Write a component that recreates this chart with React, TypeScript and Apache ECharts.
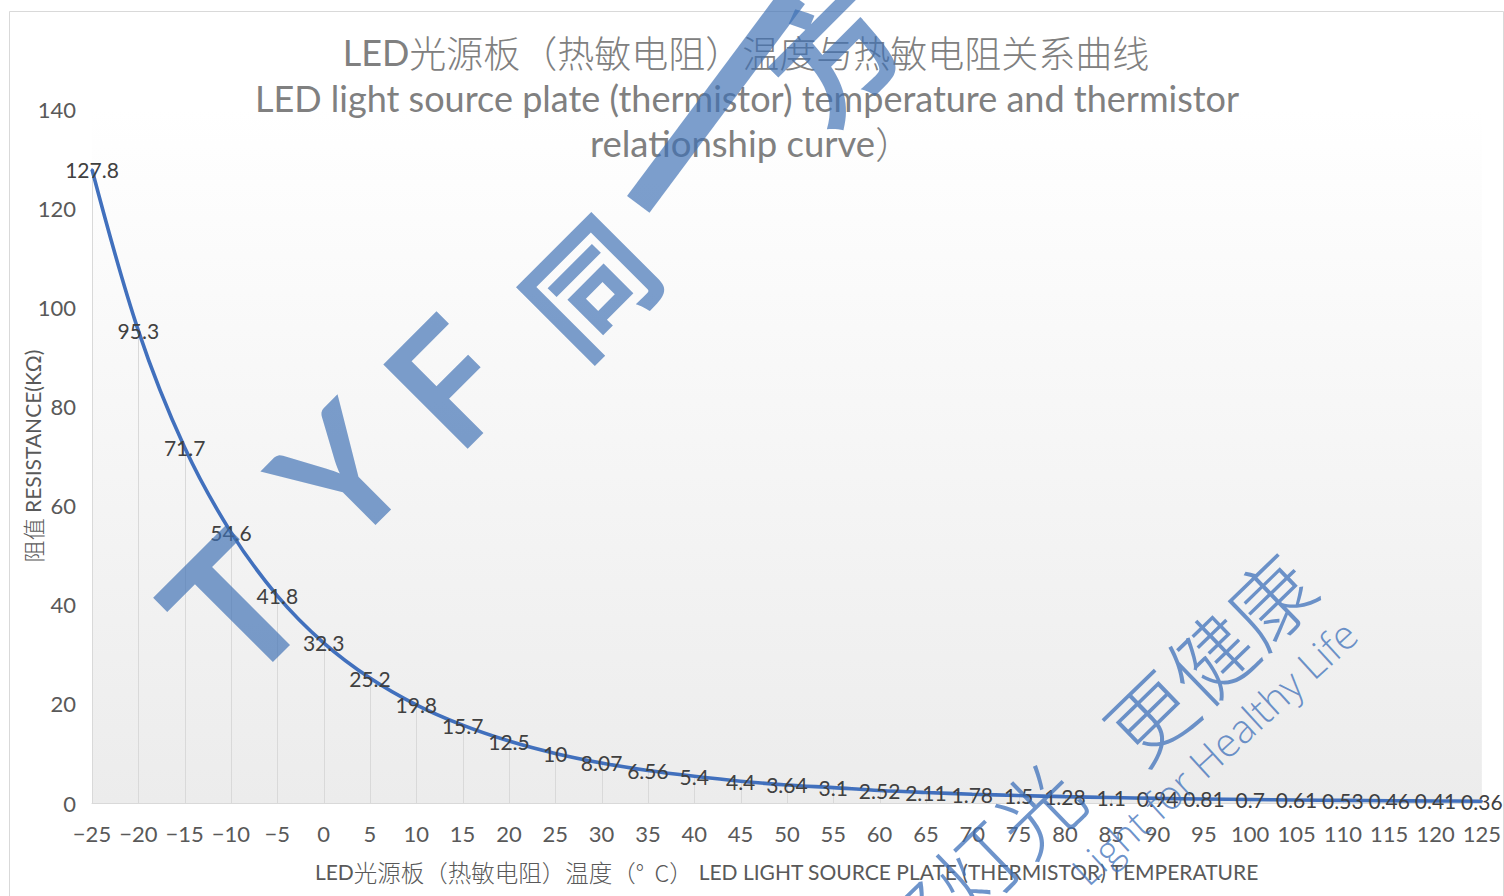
import React, { useEffect, useRef } from "react";
import * as echarts from "echarts";

const temperatures = [-25, -20, -15, -10, -5, 0, 5, 10, 15, 20, 25, 30, 35, 40, 45, 50, 55, 60, 65, 70, 75, 80, 85, 90, 95, 100, 105, 110, 115, 120, 125];
const resistance = [127.8, 95.3, 71.7, 54.6, 41.8, 32.3, 25.2, 19.8, 15.7, 12.5, 10, 8.07, 6.56, 5.4, 4.4, 3.64, 3.1, 2.52, 2.11, 1.78, 1.5, 1.28, 1.1, 0.94, 0.81, 0.7, 0.61, 0.53, 0.46, 0.41, 0.36];
const yTicks = [0, 20, 40, 60, 80, 100, 120, 140];

const titleLine1Latin = "LED";
const titleLine1Cjk = "光源板（热敏电阻）温度与热敏电阻关系曲线";
const titleLine2 = "LED light source plate (thermistor) temperature and thermistor";
const titleLine3Latin = "relationship curve";
const titleLine3Cjk = "）";
const xNameCjk = "光源板（热敏电阻）温度（°  C）";
const xNameLatin = "LED LIGHT SOURCE PLATE (THERMISTOR) TEMPERATURE";
const yNameCjk = "阻值";
const yNameLatin = " RESISTANCE(KΩ)";

const LATIN = "Lato, 'Noto Sans', sans-serif";
const CJK = "'Noto Sans CJK SC', sans-serif";

export default function App() {
  const ref = useRef<HTMLDivElement>(null);
  useEffect(() => {
    document.body.style.margin = "0";
    const chart = echarts.init(ref.current!, null, { renderer: "svg" });
    const pts = temperatures.map((t, i) => [t, resistance[i]]);
    const wmColor = "rgba(62,112,180,0.68)";
    const wmThin = "rgba(62,112,185,0.75)";
    const rot = Math.PI / 4;
    const logoText = (t: string, x: number, y: number, size: number, fam: string) => ({
      type: "text",
      x,
      y,
      rotation: rot,
      z: 100,
      silent: true,
      style: { text: t, x: 0, y: 0, align: "center", verticalAlign: "middle", fill: wmColor, font: `bold ${size}px ${fam}` },
    });
    chart.setOption({
      animation: false,
      backgroundColor: "#ffffff",
      grid: {
        left: 92,
        right: 19,
        top: 109,
        bottom: 93,
        show: true,
        borderWidth: 0,
        backgroundColor: new echarts.graphic.LinearGradient(0, 0, 0, 1, [
          { offset: 0, color: "#ffffff" },
          { offset: 1, color: "#ececec" },
        ]),
      },
      xAxis: {
        type: "value",
        min: temperatures[0],
        max: temperatures[temperatures.length - 1],
        interval: 5,
        axisLine: { show: true, lineStyle: { color: "#d9d9d9", width: 1 } },
        axisTick: { show: false },
        splitLine: { show: false },
        axisLabel: {
          color: "#595959",
          fontFamily: LATIN,
          fontSize: 22,
          margin: 19,
          formatter: (v: number) => String(v).replace("-", "\u2212"),
        },
        name: `{c|${titleLine1Latin}}{z|${xNameCjk}}{c| ${xNameLatin}}`,
        nameLocation: "middle",
        nameGap: 57,
        nameMoveOverlap: false,
        nameTextStyle: {
          rich: {
            c: { fontFamily: LATIN, fontSize: 21, color: "#595959" },
            z: { fontFamily: CJK, fontSize: 23.5, color: "#595959", fontWeight: 300 },
          },
        },
      },
      yAxis: {
        type: "value",
        min: yTicks[0],
        max: yTicks[yTicks.length - 1],
        interval: yTicks[1] - yTicks[0],
        axisLine: { show: false },
        axisTick: { show: false },
        splitLine: { show: false },
        axisLabel: { color: "#595959", fontFamily: LATIN, fontSize: 22, margin: 16 },
        name: `{z|${yNameCjk}}{c|${yNameLatin}}`,
        nameLocation: "middle",
        nameGap: 49,
        nameMoveOverlap: false,
        nameRotate: 90,
        nameTextStyle: {
          rich: {
            c: { fontFamily: LATIN, fontSize: 21, color: "#595959" },
            z: { fontFamily: CJK, fontSize: 22, color: "#595959", fontWeight: 300 },
          },
        },
      },
      series: [
        {
          type: "custom",
          silent: true,
          z: 1,
          data: pts,
          renderItem: (params: any, api: any) => {
            const p = api.coord([api.value(0), api.value(1)]);
            const b = api.coord([api.value(0), 0]);
            return {
              type: "line",
              shape: { x1: Math.round(p[0]) + 0.5, y1: p[1], x2: Math.round(b[0]) + 0.5, y2: b[1] },
              style: { stroke: "#d9d9d9", lineWidth: 1 },
            };
          },
        },
        {
          type: "line",
          data: pts,
          smooth: 0.35,
          z: 3,
          showSymbol: true,
          showAllSymbol: true,
          symbol: "circle",
          symbolSize: 2,
          itemStyle: { color: "#4170bd" },
          lineStyle: { color: "#4170bd", width: 3.6 },
          label: {
            show: true,
            position: "inside",
            color: "#404040",
            fontFamily: LATIN,
            fontSize: 21,
          },
          labelLayout: { hideOverlap: false },
        },
      ],
      graphic: [
        {
          type: "rect",
          silent: true,
          shape: { x: 9.5, y: 11.5, width: 1494, height: 900 },
          style: { fill: "none", stroke: "#d9d9d9", lineWidth: 1 },
          z: 0,
        },
        {
          type: "text",
          x: 746,
          y: 52,
          silent: true,
          style: {
            text: `{l|${titleLine1Latin}}{c|${titleLine1Cjk}}`,
            align: "center",
            verticalAlign: "middle",
            rich: {
              l: { fontFamily: LATIN, fontSize: 36, fill: "#808080" },
              c: { fontFamily: CJK, fontSize: 37, fill: "#808080", fontWeight: 300 },
            },
          },
        },
        {
          type: "text",
          x: 747,
          y: 98,
          silent: true,
          style: { text: titleLine2, align: "center", verticalAlign: "middle", font: `36px ${LATIN}`, fill: "#808080" },
        },
        {
          type: "text",
          x: 751,
          y: 143,
          silent: true,
          style: {
            text: `{l|${titleLine3Latin}}{c|${titleLine3Cjk}}`,
            align: "center",
            verticalAlign: "middle",
            rich: {
              l: { fontFamily: LATIN, fontSize: 36.5, fill: "#808080" },
              c: { fontFamily: CJK, fontSize: 37, fill: "#808080", fontWeight: 300 },
            },
          },
        },
        logoText("T", 232, 604, 180, LATIN),
        logoText("Y", 338, 472, 165, LATIN),
        logoText("F", 446, 380, 165, LATIN),
        logoText("同", 586, 282, 125, CJK),
        {
          type: "rect",
          x: 716,
          y: 100,
          rotation: 0.93,
          z: 100,
          silent: true,
          shape: { x: -130, y: -14, width: 260, height: 28 },
          style: { fill: wmColor },
        },
        logoText("方", 830, 50, 125, CJK),
        {
          type: "text",
          x: 1208,
          y: 656,
          rotation: 0.77,
          z: 100,
          silent: true,
          style: { text: "更健康", x: 0, y: 0, align: "center", verticalAlign: "middle", fill: wmThin, font: `300 84px ${CJK}` },
        },
        {
          type: "text",
          x: 975,
          y: 865,
          rotation: 0.77,
          z: 100,
          silent: true,
          style: { text: "好灯光", x: 0, y: 0, align: "center", verticalAlign: "middle", fill: wmThin, font: `300 84px ${CJK}` },
        },
        {
          type: "text",
          x: 1214,
          y: 752,
          rotation: 0.74,
          z: 100,
          silent: true,
          style: { text: "Light for Healthy Life", x: 0, y: 0, align: "center", verticalAlign: "middle", fill: wmThin, font: `300 40px 'Open Sans', sans-serif` },
        },
      ],
    });
    return () => chart.dispose();
  }, []);
  return <div ref={ref} style={{ position: "absolute", left: 0, top: 0, width: 1504, height: 896 }} />;
}
